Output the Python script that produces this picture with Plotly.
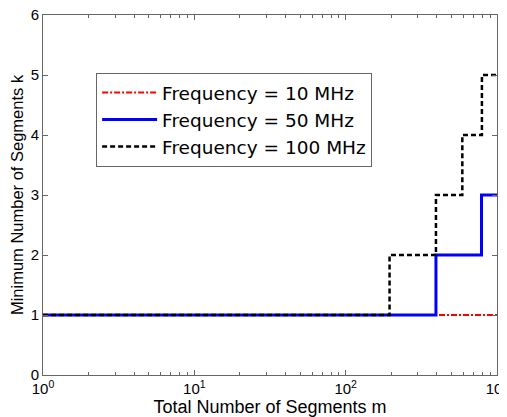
import plotly.graph_objects as go

# Transition points (total segments m) and minimum segments k (step functions)
m_10 = [1, 1000]
k_10 = [1, 1]
m_50 = [1, 395, 790, 1000]
k_50 = [1, 2, 3, 3]
m_100 = [1, 195, 395, 590, 795, 1000]
k_100 = [1, 2, 3, 4, 5, 5]
names = ["Frequency = 10 MHz", "Frequency = 50 MHz", "Frequency = 100 MHz"]
x_tickvals = [1, 10, 100, 1000]
x_ticktext = ["10<sup>0</sup>", "10<sup>1</sup>", "10<sup>2</sup>", "10<sup>3</sup>"]
x_minor_vals = [d * 10 ** e for e in range(3) for d in range(2, 10)]
y_tickvals = [0, 1, 2, 3, 4, 5, 6]

fig = go.Figure()
fig.add_trace(go.Scatter(x=m_10, y=k_10, mode="lines", name=names[0], line_shape="hv",
                         line=dict(color="#ff0000", width=2, dash="6px,2px,2px,2px")))
fig.add_trace(go.Scatter(x=m_50, y=k_50, mode="lines", name=names[1], line_shape="hv",
                         line=dict(color="#0000ff", width=3)))
fig.add_trace(go.Scatter(x=m_100, y=k_100, mode="lines", name=names[2], line_shape="hv",
                         line=dict(color="#000000", width=2.5, dash="5px,3px")))

axis_common = dict(showline=True, linecolor="#666", linewidth=1, mirror="ticks",
                   ticks="inside", tickcolor="#666", ticklen=5, showgrid=False, zeroline=False,
                   ticklabeloverflow="allow", automargin=False,
                   tickfont=dict(family="Arial, Liberation Sans", size=15, color="black"))

fig.update_xaxes(type="log", range=[0, 3], tickvals=x_tickvals, ticktext=x_ticktext,
                 title=dict(text="Total Number of Segments m", standoff=0,
                            font=dict(family="Arial, Liberation Sans", size=18, color="black")),
                 minor=dict(ticks="inside", ticklen=3, tickcolor="#666", tickvals=x_minor_vals),
                 **axis_common)
fig.update_yaxes(range=[0, 6], tickvals=y_tickvals,
                 title=dict(text="Minimum Number of Segments k", standoff=6,
                            font=dict(family="Arial, Liberation Sans", size=16.5, color="black")),
                 **axis_common)

fig.update_layout(
    width=499, height=409,
    margin=dict(l=35, r=10, t=7, b=42),
    paper_bgcolor="white", plot_bgcolor="white",
    font=dict(family="Arial, Liberation Sans", color="black"),
    legend=dict(x=0.117, y=0.839, xanchor="left", yanchor="top",
                bgcolor="white", bordercolor="#666", borderwidth=1,
                font=dict(family="DejaVu Sans", size=18.5, color="black"),
                tracegroupgap=0, itemwidth=55),
    showlegend=True,
)

fig.write_html("out.html", config={"displayModeBar": False})
